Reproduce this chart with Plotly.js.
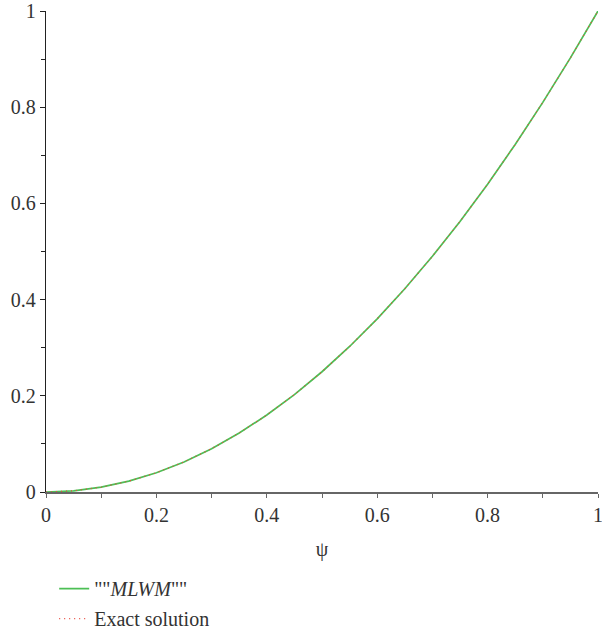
<!DOCTYPE html>
<html>
<head>
<meta charset="utf-8">
<script src="https://cdn.plot.ly/plotly-3.0.1.min.js"></script>
<style>html,body{margin:0;padding:0;background:#fff;}#chart{width:602px;height:632px;}</style>
</head>
<body>
<div id="chart"></div>
<script>
const psi = [0,0.05,0.1,0.15,0.2,0.25,0.3,0.35,0.4,0.45,0.5,0.55,0.6,0.65,0.7,0.75,0.8,0.85,0.9,0.95,1];
const mlwm = [0,0.0025,0.01,0.0225,0.04,0.0625,0.09,0.1225,0.16,0.2025,0.25,0.3025,0.36,0.4225,0.49,0.5625,0.64,0.7225,0.81,0.9025,1];
const exact = [0,0.0025,0.01,0.0225,0.04,0.0625,0.09,0.1225,0.16,0.2025,0.25,0.3025,0.36,0.4225,0.49,0.5625,0.64,0.7225,0.81,0.9025,1];
const tickVals = [0,0.2,0.4,0.6,0.8,1];
const tickText = ['0','0.2','0.4','0.6','0.8','1'];

const fontFam = 'Liberation Serif';
const traces = [
  {x: psi, y: mlwm, mode: 'lines', name: '""<i>MLWM</i>""', legendgroup: 'a', line: {color: '#4cbf55', width: 1.7}},
  {x: psi, y: exact, mode: 'lines', name: 'Exact solution', legendgroup: 'b', line: {color: '#e8473a', width: 1.2, dash: '1px,4px'}}
];
const layout = {
  width: 602, height: 632,
  margin: {l: 46, r: 4, t: 11, b: 140, autoexpand: false},
  paper_bgcolor: '#fff', plot_bgcolor: '#fff',
  font: {family: fontFam, size: 20, color: '#333'},
  showlegend: true,
  legend: {xref: 'container', yref: 'container', x: 0.09, y: 0.045, xanchor: 'left', yanchor: 'middle',
           bgcolor: 'rgba(0,0,0,0)', font: {family: fontFam, size: 20, color: '#333'}, tracegroupgap: 1},
  xaxis: {range: [0, 1], tickvals: tickVals, ticktext: tickText, showgrid: false, zeroline: false,
          showline: true, linecolor: '#666', linewidth: 1.5, ticks: 'outside', ticklen: 4, tickcolor: '#666',
          minor: {dtick: 0.1, ticks: 'outside', ticklen: 4, tickcolor: '#666'}, automargin: false,
          ticklabeloverflow: 'allow',
          title: {text: 'ψ', font: {family: fontFam, size: 20, color: '#333'}, standoff: 17}},
  yaxis: {range: [0, 1], tickvals: tickVals, ticktext: tickText, showgrid: false, zeroline: false, automargin: false,
          ticklabeloverflow: 'allow',
          showline: true, linecolor: '#222', linewidth: 1.2, ticks: 'outside', ticklen: 5, tickcolor: '#222',
          minor: {dtick: 0.1, ticks: 'outside', ticklen: 4, tickcolor: '#222'}}
};
Plotly.newPlot('chart', traces, layout, {displayModeBar: false, staticPlot: true});
</script>
</body>
</html>
